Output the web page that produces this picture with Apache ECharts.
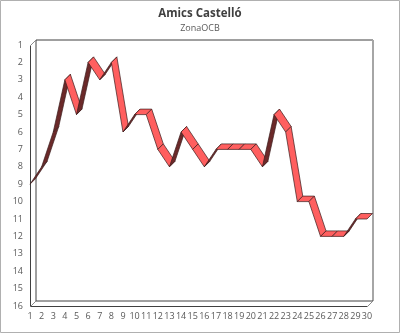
<!DOCTYPE html>
<html><head><meta charset="utf-8">
<script src="https://cdn.jsdelivr.net/npm/echarts@6/dist/echarts.min.js"></script>
<style>html,body{margin:0;padding:0;background:#fff}#c{width:400px;height:333px}</style>
</head><body><div id="c"></div>
<script>
const titleText = "Amics Castelló";
const subtitleText = "ZonaOCB";
const jornadas = [1,2,3,4,5,6,7,8,9,10,11,12,13,14,15,16,17,18,19,20,21,22,23,24,25,26,27,28,29,30];
const positions = [9,8,6,3,5,2,3,2,6,5,5,7,8,6,7,8,7,7,7,7,8,5,6,10,10,12,12,12,11,11];
const yTicks = [1,16];

const DX = 5.5, DY = -5.5;
const RED = '#ff5f5f', DARK = '#6b2929', EDGE = '#3b1c1c';

const segs = [];
for (let i = 0; i < jornadas.length - 1; i++) {
  segs.push([jornadas[i], positions[i], jornadas[i+1], positions[i+1]]);
}
const frameData = [[jornadas[0], yTicks[0], jornadas[jornadas.length-1], yTicks[1]]];

const chart = echarts.init(document.getElementById('c'), null, {renderer:'canvas'});
const font = '"Open Sans", "Noto Sans", sans-serif';
chart.setOption({
  animation:false,
  title:{text:titleText, subtext:subtitleText, left:'center', top:3, itemGap:4,
    textStyle:{fontSize:11.5, fontWeight:'bold', color:'#404040', fontFamily:font},
    subtextStyle:{fontSize:9, color:'#595959', fontFamily:font}},
  graphic:[{type:'rect', shape:{x:0.5,y:0.5,width:399,height:332}, style:{fill:'none', stroke:'#b0b0b0', lineWidth:1}, silent:true}],
  grid:{left:30, right:33, top:45, bottom:27},
  xAxis:{type:'value', min:jornadas[0], max:jornadas[jornadas.length-1], interval:1,
    axisLine:{show:false}, axisTick:{show:false}, splitLine:{show:false},
    axisLabel:{color:'#595959', fontSize:9, fontFamily:font, margin:6}},
  yAxis:{type:'value', inverse:true, min:yTicks[0], max:yTicks[1], interval:1,
    axisLine:{show:false}, axisTick:{show:false}, splitLine:{show:false},
    axisLabel:{color:'#595959', fontSize:9, fontFamily:font, margin:7}},
  series:[
    {type:'custom', data:frameData, silent:true, z:1,
     renderItem:function(params, api){
       const a = api.coord([api.value(0), api.value(1)]);
       const b = api.coord([api.value(2), api.value(3)]);
       const L = Math.round(a[0])+0.5, T = Math.round(a[1])+0.5, R = Math.round(b[0])+0.5, B = Math.round(b[1])+0.5;
       const dx = DX, dy = DY;
       const ln = (x1,y1,x2,y2,c,w)=>({type:'line', shape:{x1,y1,x2,y2}, style:{stroke:c, lineWidth:w||1}});
       return {type:'group', children:[
         ln(L+dx,T+dy,R+dx,T+dy,'#404040'),
         ln(R+dx,T+dy,R+dx,B+dy,'#a6a6a6',2),
         ln(L+dx,T+dy,L+dx,B+dy,'#404040'),
         ln(L+dx,B+dy,R+dx,B+dy,'#404040'),
         ln(L,T,L,B,'#404040'),
         ln(L,B,R,B,'#404040'),
         ln(L,T,L+dx,T+dy,'#8c8c8c'),
         ln(L,B,L+dx,B+dy,'#8c8c8c'),
         ln(R,B,R+dx,B+dy,'#8c8c8c')
       ]};
     }},
    {type:'custom', data:segs, silent:true, z:3,
     renderItem:function(params, api){
       const p1 = api.coord([api.value(0), api.value(1)]);
       const p2 = api.coord([api.value(2), api.value(3)]);
       const vx = p2[0]-p1[0], vy = p2[1]-p1[1];
       const cross = vx*DY - vy*DX;
       const fill = cross < 0 ? RED : DARK;
       return {type:'polygon', shape:{points:[p1, p2, [p2[0]+DX, p2[1]+DY], [p1[0]+DX, p1[1]+DY]]},
         style:{fill:fill, stroke:EDGE, lineWidth:0.7, lineJoin:'round'}};
     }}
  ]
});
</script></body></html>
